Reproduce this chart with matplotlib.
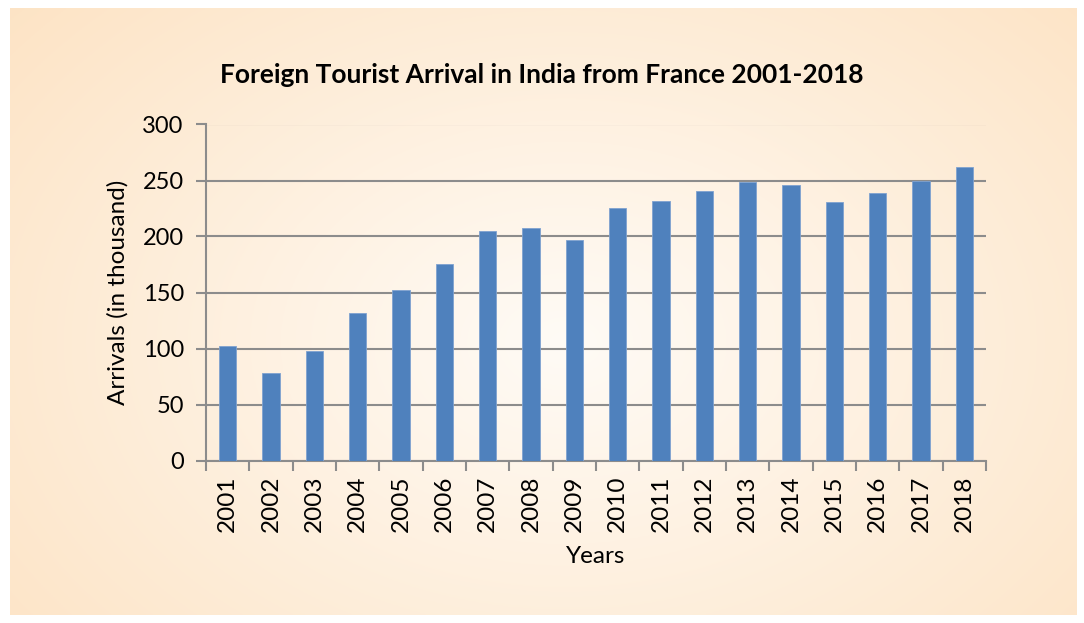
import matplotlib.pyplot as plt
import numpy as np

years = [str(y) for y in range(2001, 2019)]
arrivals = [102.4, 78.2, 97.6, 131.8, 152.3, 175.3, 204.8, 207.8, 196.5,
            225.4, 231.4, 240.7, 248.4, 246.1, 230.8, 238.7, 249.6, 261.7]

plt.rcParams['font.family'] = ['Lato', 'DejaVu Sans']

fig = plt.figure(figsize=(10.84, 6.23), dpi=100)
fig.patch.set_facecolor('white')

# peach radial gradient panel behind the chart
bg = fig.add_axes([10 / 1084, 1 - 615 / 623, 1067 / 1084, 607 / 623], zorder=0)
h, w = 300, 520
yy, xx = np.mgrid[0:h, 0:w]
r = np.sqrt(((xx - w * 0.52) / (w * 0.5)) ** 2 + ((yy - h * 0.55) / (h * 0.62)) ** 2)
r = np.clip(r / 1.35, 0, 1)
inner = np.array([1.0, 0.985, 0.965])
outer = np.array([0.992, 0.894, 0.776])
img = inner[None, None, :] * (1 - r[..., None]) + outer[None, None, :] * r[..., None]
bg.imshow(img, aspect='auto', extent=[0, 1, 0, 1])
bg.axis('off')

ax = fig.add_axes([206 / 1084, 1 - 460.5 / 623, 780 / 1084, 336 / 623], zorder=1)
ax.set_facecolor('none')

x = np.arange(len(years))
ax.bar(x, arrivals, width=0.4, color='#4f81bd', edgecolor='#7fa2d0', linewidth=0.6, zorder=3)

ax.set_xlim(-0.5, len(years) - 0.5)
ax.set_ylim(0, 300)
ax.set_yticks(range(0, 301, 50))
ax.set_xticks(x)
ax.set_xticklabels(years, rotation=90, fontsize=17.5)
ax.set_xticks(np.arange(-0.5, len(years), 1), minor=True)
ax.tick_params(axis='x', which='major', length=0, pad=11)
ax.tick_params(axis='x', which='minor', length=7, width=1.5, color='#8c8c8c', direction='out')
ax.tick_params(axis='y', length=7, width=1.5, color='#8c8c8c', labelsize=17, pad=9)

ax.yaxis.grid(True, color='#8c8c8c', linewidth=1.5, zorder=1)
ax.set_axisbelow(True)
for s in ['top', 'right']:
    ax.spines[s].set_visible(False)
for s in ['left', 'bottom']:
    ax.spines[s].set_color('#8c8c8c')
    ax.spines[s].set_linewidth(1.5)

ax.set_xlabel('Years', fontsize=17.5, labelpad=10)
ax.set_ylabel('Arrivals (in thousand)', fontsize=17.5, labelpad=10)
fig.text(542 / 1084, 1 - 75 / 623, 'Foreign Tourist Arrival in India from France 2001-2018',
         ha='center', va='center', fontsize=19, fontweight='bold')

fig.savefig('out.png', dpi=100)
